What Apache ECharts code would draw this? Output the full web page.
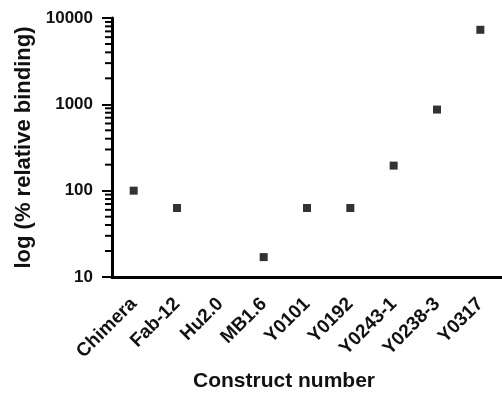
<!DOCTYPE html>
<html>
<head>
<meta charset="utf-8">
<script src="https://cdn.jsdelivr.net/npm/echarts@6/dist/echarts.min.js"></script>
<style>html,body{margin:0;padding:0;background:#fff;}#c{width:502px;height:397px;}</style>
</head>
<body>
<div id="c"></div>
<script>
const categories = ['Chimera','Fab-12','Hu2.0','MB1.6','Y0101','Y0192','Y0243-1','Y0238-3','Y0317'];
const bindingValues = [100, 63, null, 17, 63, 63, 195, 870, 7300];
const minorTickValues = [20,30,40,50,60,70,80,90,200,300,400,500,600,700,800,900,2000,3000,4000,5000,6000,7000,8000,9000];
const yAxisName = 'log (% relative binding)';
const xAxisName = 'Construct number';

const font = 'Liberation Sans, Arial, Helvetica, sans-serif';
const chart = echarts.init(document.getElementById('c'), null, {renderer: 'canvas'});
chart.setOption({
  backgroundColor: '#fff',
  animation: false,
  grid: {left: 112, right: -4, top: 18, bottom: 119, containLabel: false},
  xAxis: {
    type: 'category',
    data: categories,
    boundaryGap: true,
    name: xAxisName,
    nameLocation: 'middle',
    nameGap: 94,
    nameTextStyle: {color: '#111', fontFamily: font, fontWeight: 'bold', fontSize: 21, padding: [0, 46, 0, 0]},
    axisLine: {lineStyle: {color: '#000', width: 3}},
    axisTick: {alignWithLabel: true, inside: false, length: 9, lineStyle: {color: '#000', width: 2}},
    axisLabel: {rotate: 45, margin: 24, color: '#111', fontFamily: font, fontWeight: 'bold', fontSize: 19, interval: 0},
    splitLine: {show: false}
  },
  yAxis: {
    type: 'log',
    logBase: 10,
    min: 10,
    max: 10000,
    name: yAxisName,
    nameLocation: 'middle',
    nameGap: 73,
    nameTextStyle: {color: '#111', fontFamily: font, fontWeight: 'bold', fontSize: 22},
    axisLine: {show: true, lineStyle: {color: '#000', width: 3}},
    axisTick: {show: true, inside: false, length: 10, lineStyle: {color: '#000', width: 2}},
    axisLabel: {margin: 19, color: '#111', fontFamily: font, fontWeight: 'bold', fontSize: 17, formatter: v => String(Math.round(v))},
    splitLine: {show: false},
    minorTick: {show: false}
  },
  series: [
    {
      type: 'scatter',
      data: bindingValues,
      symbol: 'rect',
      symbolSize: 8,
      itemStyle: {color: '#000'}
    },
    {
      type: 'custom',
      data: minorTickValues.map(v => [0, v]),
      silent: true,
      renderItem: function (params, api) {
        const p = api.coord([0, api.value(1)]);
        const x0 = params.coordSys.x;
        return {
          type: 'line',
          shape: {x1: x0 - 7, y1: p[1], x2: x0, y2: p[1]},
          style: {stroke: '#000', lineWidth: 2}
        };
      }
    }
  ]
});
</script>
</body>
</html>
